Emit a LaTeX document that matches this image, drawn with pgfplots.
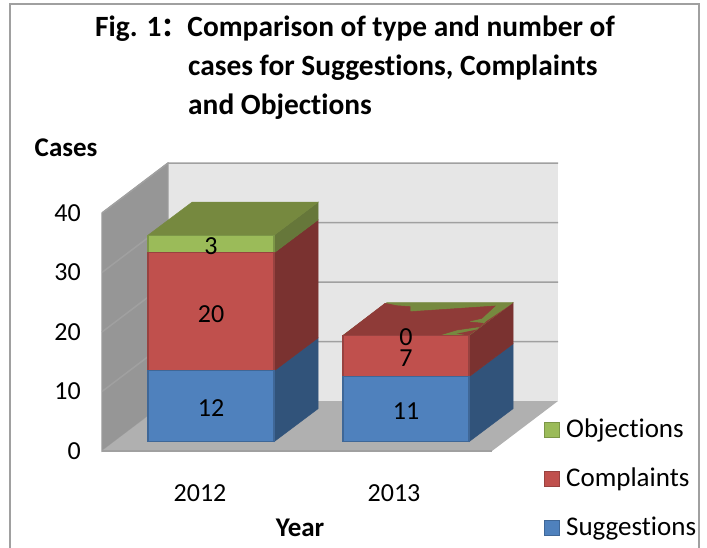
\documentclass[border=0pt]{standalone}
\usepackage{fontspec}
\setmainfont[Ligatures=NoCommon]{Carlito}
\newfontfamily\cjk{Noto Sans CJK SC}
\usepackage{pgfplots}
\pgfplotsset{compat=1.18}
\definecolor{wallL}{HTML}{969696}
\definecolor{wallB}{HTML}{E6E6E6}
\definecolor{floorC}{HTML}{B0B0B0}
\definecolor{gridC}{HTML}{A0A0A0}
\definecolor{blueF}{HTML}{4F81BD}
\definecolor{redF}{HTML}{C0504D}
\definecolor{greenF}{HTML}{9BBB59}
\definecolor{blueS}{HTML}{31537A}
\definecolor{redS}{HTML}{7A3230}
\definecolor{redT}{HTML}{8F3B38}
\definecolor{greenS}{HTML}{66773A}
\definecolor{greenT}{HTML}{76893F}
\definecolor{blueE}{HTML}{3F6797}
\definecolor{redE}{HTML}{984240}
\definecolor{greenE}{HTML}{7C9647}
\pgfplotsset{
  pxaxis/.style={scale only axis,width=390pt,xmin=102,xmax=492,ymin=0,ymax=40,clip=false},
  face/.style={draw=#1,fill=#1,line width=0.5pt,mark=none}
}
\begin{document}
\begin{tikzpicture}[x=1pt,y=1pt]
\path[use as bounding box] (0,0) rectangle (707,548);
\draw[gridC,line width=1.2pt] (10,0) -- (10,544) -- (699,544) -- (699,0);
% walls, gridlines, tick labels
\begin{axis}[pxaxis,at={(102pt,97pt)},height=238pt,
  axis line style={draw=none},major tick length=0pt,
  /pgf/number format/assume math mode=true,
  xtick={200,394},xticklabels={2012,2013},
  ytick={0,10,20,30,40},
  tick label style={font=\fontsize{26}{26}\selectfont},
  xticklabel style={anchor=center,yshift=-42pt},
  yticklabel style={inner sep=0pt,xshift=-21pt},
  xlabel={\bfseries\fontsize{27}{27}\selectfont Year},
  ylabel={\bfseries\fontsize{27}{27}\selectfont Cases},
  every axis x label/.style={at={(axis description cs:0.508,-0.3235)},anchor=center},
  every axis y label/.style={at={(axis description cs:-0.092,1.273)},anchor=center}]
\addplot[fill=wallB,draw=none,mark=none] coordinates {(168,8.4)(558,8.4)(558,48.4)(168,48.4)} --cycle;
\addplot[fill=wallL,draw=gridC,line width=1pt,mark=none] coordinates {(102,0)(168,8.4)(168,48.4)(102,40)} --cycle;
\addplot[fill=floorC,draw=none,mark=none] coordinates {(102,0)(168,8.4)(558,8.4)(492,0)} --cycle;
\addplot[gridC,line width=1.5pt,mark=none] coordinates {(102,0)(492,0)};
\addplot[gridC,line width=1.5pt,mark=none] coordinates {(102,10)(168,18.4)(558,18.4)};
\addplot[gridC,line width=1.5pt,mark=none] coordinates {(102,20)(168,28.4)(558,28.4)};
\addplot[gridC,line width=1.5pt,mark=none] coordinates {(102,30)(168,38.4)(558,38.4)};
\addplot[gridC,line width=1.5pt,mark=none] coordinates {(102,40)(168,48.4)(558,48.4)};
\end{axis}
% side and top faces of the bars
\begin{axis}[pxaxis,at={(102pt,106.3pt)},height=236pt,hide axis]
\addplot[face=blueS] coordinates {(274,0)(318,5.59)(318,17.59)(274,12)} --cycle;
\addplot[face=redS] coordinates {(274,12)(318,17.59)(318,37.59)(274,32)} --cycle;
\addplot[face=greenS] coordinates {(274,32)(318,37.59)(318,40.59)(274,35)} --cycle;
\addplot[face=greenT] coordinates {(148,35)(274,35)(318,40.59)(192,40.59)} --cycle;
\addplot[face=blueS] coordinates {(469,0)(513,5.59)(513,16.59)(469,11)} --cycle;
\addplot[face=redS] coordinates {(469,11)(513,16.59)(513,23.59)(469,18)} --cycle;
\addplot[face=greenT] coordinates {(343,18)(469,18)(513,23.59)(387,23.59)} --cycle;
\addplot[face=redT] coordinates {(343,18)(385,23.45)(396.7,23.05)(410,22.9)(410,22.03)(495,23)(481.7,20.9)(466.7,20.34)(483.3,20.07)(480,19.5)(456.7,18.93)(440,18.08)} --cycle;
\addplot[fill=redT,draw=none,mark=none] coordinates {(469,18)(511.7,23.3)(486.7,20.46)(483.3,19.9)(476.7,19)(456.7,18.3)} --cycle;
\end{axis}
% front faces with their values
\begin{axis}[pxaxis,at={(102pt,106.3pt)},height=236pt,hide axis,
  ybar stacked,bar width=126,stacked ignores zero=false,
  nodes near coords,point meta=explicit symbolic,
  nodes near coords style={anchor=center,yshift=-2pt,font=\fontsize{26}{26}\selectfont,text=black},
  reverse legend,
  legend cell align=left,
  legend image code/.code={\draw[#1,line width=1.2pt] (0.5pt,-7.5pt) rectangle (15.5pt,7.5pt);\path[draw=none,fill=none,line width=0pt] (0pt,0pt) (22pt,0pt);},
  legend style={draw=none,fill=none,at={(1.133,0.092)},anchor=north west,
    font=\fontsize{27}{27}\selectfont,inner sep=0pt,row sep=29pt,
    nodes={inner sep=0pt,text height=17pt,text depth=3pt}}]
\addplot[fill=blueF,draw=blueE,line width=1.2pt] table[x=x,y=y,meta=y] {
x y
211 12
406 11
};
\addplot[fill=redF,draw=redE,line width=1.2pt] table[x=x,y=y,meta=y] {
x y
211 20
406 7
};
\addplot[fill=greenF,draw=greenE,line width=1.2pt] table[x=x,y=y,meta=y] {
x y
211 3
406 0
};
\legend{Suggestions,Complaints,Objections}
\end{axis}
\node[anchor=base west,inner sep=0pt,font=\bfseries\fontsize{29.4}{29.4}\selectfont] at (95,511) {Fig. 1{\cjk\fontsize{26}{26}\selectfont ：}Comparison of type and number of};
\node[anchor=base west,inner sep=0pt,font=\bfseries\fontsize{29.4}{29.4}\selectfont] at (188,472) {cases for Suggestions, Complaints};
\node[anchor=base west,inner sep=0pt,font=\bfseries\fontsize{29.4}{29.4}\selectfont] at (188,433) {and Objections};
\end{tikzpicture}
\end{document}
